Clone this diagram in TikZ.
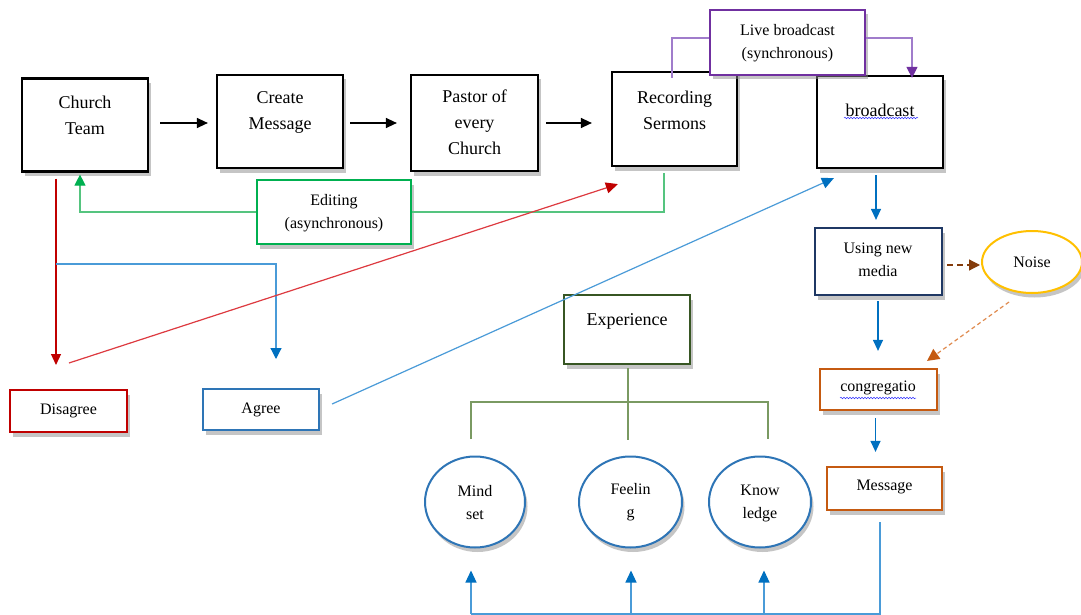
\documentclass[tikz,border=0pt]{standalone}
\usepackage{fontspec}
\setmainfont{Liberation Serif}
\usetikzlibrary{arrows.meta,shadows,decorations.pathmorphing,shapes.geometric,calc}
\definecolor{cgreen}{HTML}{00B050}
\definecolor{cgreenl}{HTML}{55C47F}
\definecolor{cpurple}{HTML}{7030A0}
\definecolor{cpurplel}{HTML}{A07CCB}
\definecolor{cred}{HTML}{C00000}
\definecolor{credl}{HTML}{DD3A40}
\definecolor{cblue}{HTML}{2E75B6}
\definecolor{cbluel}{HTML}{4A9BD8}
\definecolor{cbluea}{HTML}{0070C0}
\definecolor{cnavy}{HTML}{1F3864}
\definecolor{cyellow}{HTML}{FFC000}
\definecolor{corange}{HTML}{C55A11}
\definecolor{corangel}{HTML}{E08A4E}
\definecolor{cbrown}{HTML}{843C0C}
\definecolor{cdgreen}{HTML}{375623}
\definecolor{ctree}{HTML}{7A9A62}
\begin{document}
\begin{tikzpicture}[x=1pt,y=-1pt,
  shd/.style={drop shadow={shadow xshift=2.5pt,shadow yshift=-4.5pt,opacity=0.5,fill=black!45}},
  box/.style={draw,line width=2.2pt,fill=white,inner sep=0pt,shd},
  bigtxt/.style={font=\fontsize{18}{26}\selectfont,align=center,inner sep=0pt},
  smalltxt/.style={font=\fontsize{16}{23}\selectfont,align=center,inner sep=0pt},
  blk/.style={line width=1.3pt,-{Triangle[length=11pt,width=10pt]}},
  tipb/.style={-{Triangle[length=11pt,width=10pt]}},
  conn/.style={line width=1.2pt},
  wavy/.style={draw=blue!80,line width=0.5pt,decorate,decoration={snake,amplitude=0.8pt,segment length=3pt}}
]
\useasboundingbox (0,0) rectangle (1081,615);
\fill[white] (0,0) rectangle (1081,615);

% ---------- boxes ----------
\node[box,minimum width=126pt,minimum height=93pt] (ct) at (85,125) {};
\node[bigtxt] (ctt) at (85,115) {Church\\Team};
\node[box,minimum width=126pt,minimum height=93pt] (cm) at (280,121.5) {};
\node[bigtxt] (cmt) at (280,112) {Create\\Message};
\node[box,minimum width=127pt,minimum height=96pt] (pa) at (474.5,123) {};
\node[bigtxt] (pat) at (474.5,122.5) {Pastor of\\every\\Church};
\node[box,minimum width=125pt,minimum height=94pt] (rs) at (674.5,119) {};
\node[bigtxt] (rst) at (674.5,110) {Recording\\Sermons};
\node[box,minimum width=126pt,minimum height=92pt] (bc) at (880,122) {};
\node[bigtxt] (bct) at (880,110) {broadcast};
\draw[wavy] (844,118) -- (918,118);

\node[box,draw=cpurple,minimum width=155pt,minimum height=65pt] (lb) at (787.5,42.5) {};
\node[smalltxt] (lbt) at (787.5,43.5) {Live broadcast\\(synchronous)};

\node[box,draw=cgreen,minimum width=154pt,minimum height=64pt] (ed) at (334,212) {};
\node[smalltxt] (edt) at (334,213) {Editing\\(asynchronous)};

\node[box,draw=cred,minimum width=117pt,minimum height=42pt] (dis) at (68.5,411) {};
\node[smalltxt] (dist) at (68.5,411) {Disagree};
\node[box,draw=cblue,minimum width=116pt,minimum height=41pt] (agr) at (261,409.5) {};
\node[smalltxt] (agrt) at (261,410) {Agree};

\node[box,draw=cnavy,minimum width=127pt,minimum height=67pt] (unm) at (878.5,261.5) {};
\node[smalltxt] (unmt) at (878,259.5) {Using new\\media};
\node[ellipse,draw=cyellow,line width=2pt,fill=white,shd,minimum width=100pt,minimum height=62pt,inner sep=0pt,font=\fontsize{16}{23}\selectfont] (noi) at (1032,262) {Noise};

\node[box,draw=corange,minimum width=117pt,minimum height=41pt] (con) at (878.5,389.5) {};
\node[smalltxt] (cont) at (878,388) {congregatio};
\draw[wavy] (840,398) -- (916,398);
\node[box,draw=corange,minimum width=115pt,minimum height=43pt] (msg) at (884.5,488.5) {};
\node[smalltxt] (msgt) at (884.5,487) {Message};

\node[box,draw=cdgreen,minimum width=126pt,minimum height=69pt] (exp) at (627,329.5) {};
\node[bigtxt] (expt) at (627,321) {Experience};

\node[ellipse,draw=cblue,line width=2pt,fill=white,shd,minimum width=100pt,minimum height=91pt] (ms) at (475,502) {};
\node[smalltxt] (mst) at (475,502.5) {Mind\\set};
\node[ellipse,draw=cblue,line width=2pt,fill=white,shd,minimum width=103pt,minimum height=91pt] (fe) at (630.5,502) {};
\node[smalltxt] (fet) at (630.5,502.5) {Feelin\\g};
\node[ellipse,draw=cblue,line width=2pt,fill=white,shd,minimum width=102pt,minimum height=91pt] (kn) at (760,502) {};
\node[smalltxt] (knt) at (760,503.5) {Know\\ledge};

% ---------- connectors ----------
\draw[blk] ($(ct.east)+(11,-2)$) -- ($(cm.west)+(-8,1.5)$);
\draw[blk] ($(cm.east)+(6,1.5)$) -- ($(pa.west)+(-13,0)$);
\draw[blk] ($(pa.east)+(7,0)$) -- ($(rs.west)+(-19,4)$);

% purple
\draw[conn,cpurplel] ($(rs.north)+(-2.5,7)$) |- ($(lb.west)+(0,-4.5)$);
\draw[conn,cpurplel,-{Triangle[length=11pt,width=11pt,color=cpurple]}] ($(lb.east)+(0,-4.5)$) -| ($(bc.north)+(32,3)$);

% green
\draw[conn,cgreenl] ($(rs.south)+(-10.5,6)$) |- (ed.east);
\draw[conn,cgreenl,-{Triangle[length=11pt,width=11pt,color=cgreen]}] (ed.west) -| ($(ct.south)+(-5,2)$);

% red from church team
\coordinate (redtip) at (56,365);
\draw[conn,cred,tipb] ($(ct.south)+(-29,6)$) -- (redtip);
% blue to agree
\coordinate (bj) at (56,264);
\coordinate (agtip) at (276,359);
\draw[conn,cbluel,-{Triangle[length=11pt,width=11pt,color=cbluea]}] (bj) -| (agtip);

% red diagonal
\coordinate (rd0) at (69,363);
\draw[conn,credl,-{Triangle[length=12pt,width=11pt,color=cred]}] (rd0) -- ($(rs.south west)+(7,17)$);
% blue diagonal
\draw[conn,cbluel,-{Triangle[length=12pt,width=11pt,color=cbluea]}] ($(agr.east)+(12,-5.5)$) -- ($(bc.south west)+(18,9)$);

% right column
\draw[conn,cbluea,tipb] ($(bc.south)+(-4,6)$) -- ($(unm.north)+(-2.5,-7)$);
\draw[conn,cbrown,dash pattern=on 6pt off 4pt,-{Triangle[length=11pt,width=11pt]}] ($(unm.east)+(4,3.5)$) -- ($(noi.west)+(-1,3)$);
\draw[conn,corangel,dash pattern=on 4pt off 3pt,-{Triangle[length=12pt,width=12pt,color=corange]}] ($(noi.south)+(-23,8)$) -- ($(con.north east)+(-11,-7)$);
\draw[conn,cbluea,tipb] ($(unm.south)+(-0.5,5)$) -- ($(con.north)+(-0.5,-17)$);
\draw[conn,cbluea,tipb] ($(con.south)+(-3,7)$) -- ($(msg.north)+(-9,-14)$);

% tree
\coordinate (tj) at (628,402);
\draw[conn,ctree] ($(exp.south)+(1,3)$) -- (tj) -- ++(0,38);
\draw[conn,ctree] ($(ms.north)+(-4,-16.5)$) |- (tj) -| ($(kn.north)+(8,-16.5)$);

% bottom feedback
\coordinate (bot) at (880,614);
\draw[conn,cbluel] ($(msg.south)+(-4.5,11)$) -- (bot) -- ($(ms.south |- bot)+(-4,0)$);
\draw[conn,cbluel,-{Triangle[length=12pt,width=11pt,color=cbluea]}] ($(ms.south |- bot)+(-4,0)$) -- ($(ms.south)+(-4,22)$);
\draw[conn,cbluel,-{Triangle[length=12pt,width=11pt,color=cbluea]}] ($(fe.south |- bot)+(0.5,0)$) -- ($(fe.south)+(0.5,22)$);
\draw[conn,cbluel,-{Triangle[length=12pt,width=11pt,color=cbluea]}] ($(kn.south |- bot)+(4,0)$) -- ($(kn.south)+(4,22)$);
\end{tikzpicture}
\end{document}
